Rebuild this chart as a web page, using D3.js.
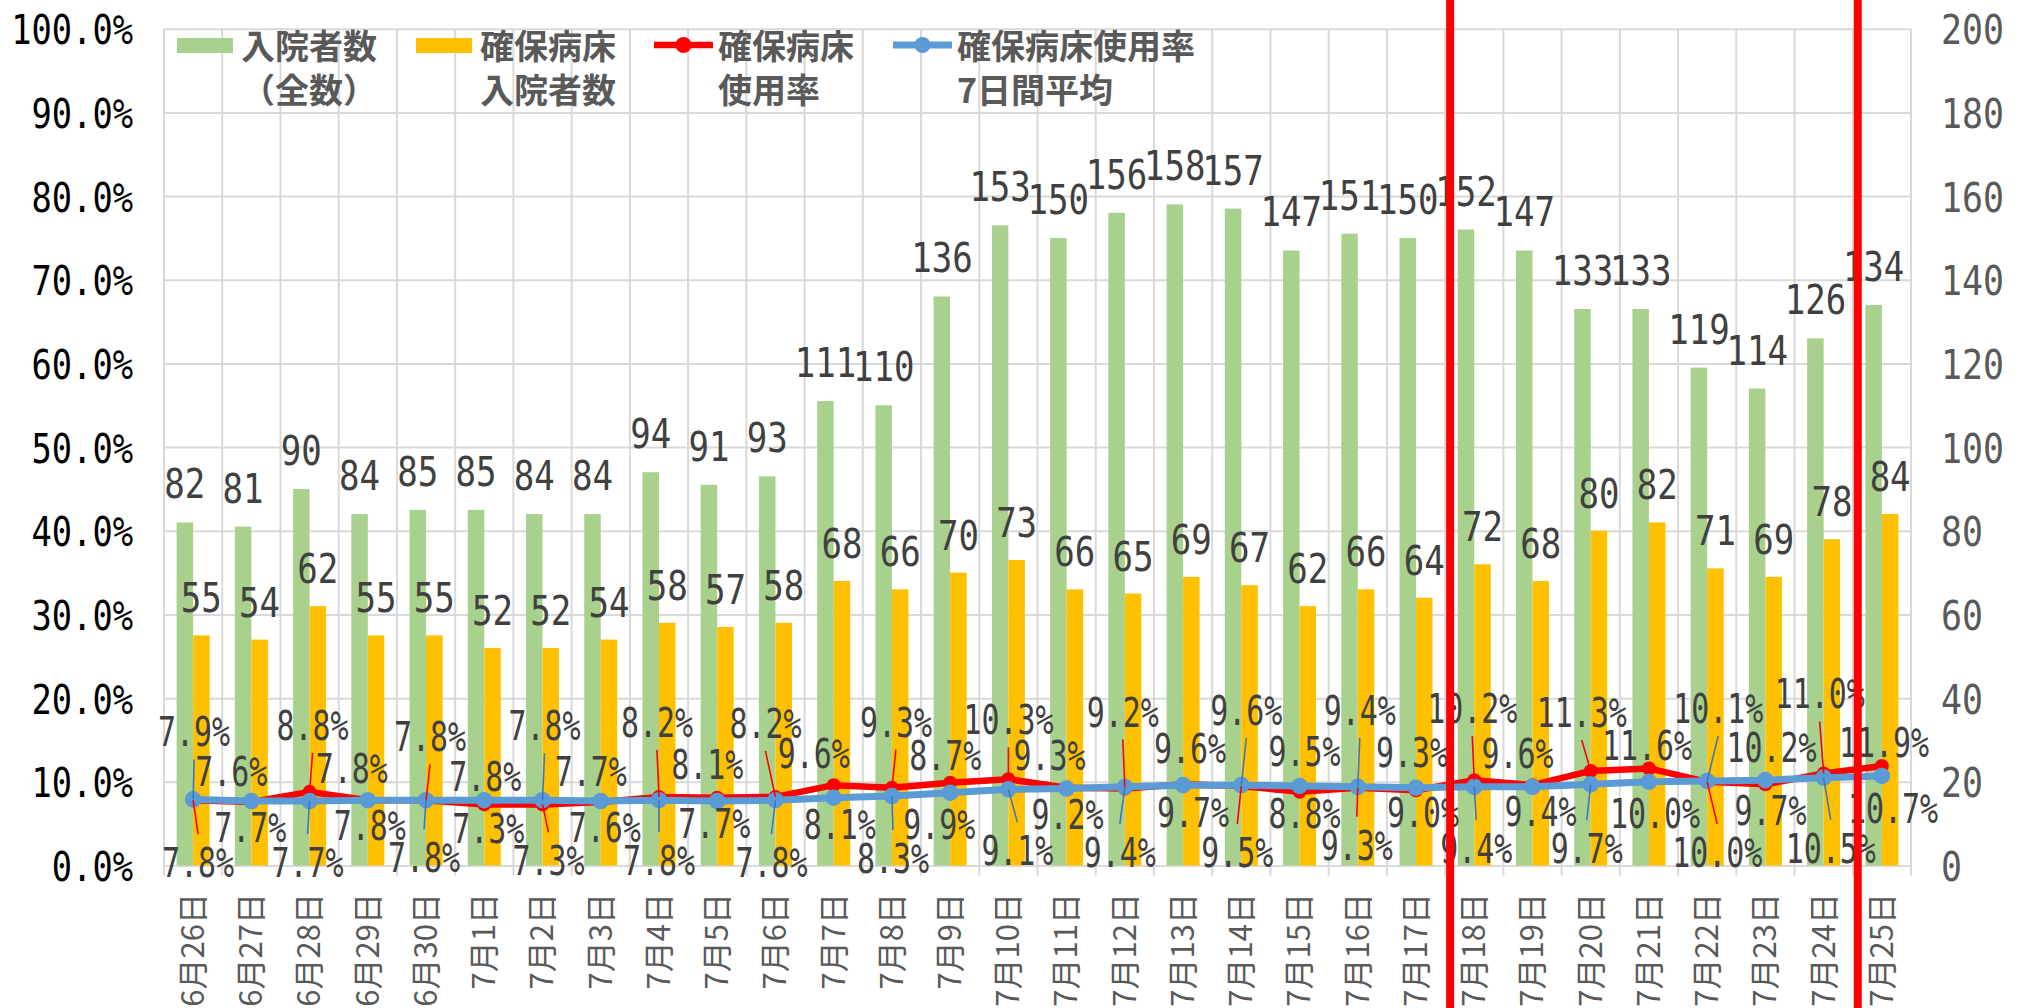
<!DOCTYPE html>
<html>
<head>
<meta charset="utf-8">
<script src="https://cdn.jsdelivr.net/npm/d3@7"></script>
<style>
  body { margin: 0; background: #fff; }
  svg { display: block; }
</style>
</head>
<body>
<svg id="chart" width="2024" height="1008"></svg>
<script>
// data
const dates = ["6月26日","6月27日","6月28日","6月29日","6月30日","7月1日","7月2日","7月3日","7月4日","7月5日",
  "7月6日","7月7日","7月8日","7月9日","7月10日","7月11日","7月12日","7月13日","7月14日","7月15日",
  "7月16日","7月17日","7月18日","7月19日","7月20日","7月21日","7月22日","7月23日","7月24日","7月25日"];
const inpatients = [82,81,90,84,85,85,84,84,94,91,93,111,110,136,153,150,156,158,157,147,151,150,152,147,133,133,119,114,126,134];
const securedBeds = [55,54,62,55,55,52,52,54,58,57,58,68,66,70,73,66,65,69,67,62,66,64,72,68,80,82,71,69,78,84];
const usageRate = [7.8,7.6,8.8,7.8,7.8,7.3,7.3,7.6,8.2,8.1,8.2,9.6,9.3,9.9,10.3,9.3,9.2,9.7,9.5,8.8,9.3,9.0,10.2,9.6,11.3,11.6,10.0,9.7,11.0,11.9];
const usageAvg7 = [7.9,7.7,7.7,7.8,7.8,7.8,7.8,7.7,7.8,7.7,7.8,8.1,8.3,8.7,9.1,9.2,9.4,9.6,9.6,9.5,9.4,9.3,9.4,9.4,9.7,10.0,10.1,10.2,10.5,10.7];
const leftTicks = [0,0.1,0.2,0.3,0.4,0.5,0.6,0.7,0.8,0.9,1.0];
const rightTicks = [0,20,40,60,80,100,120,140,160,180,200];
const markedDates = ["7月18日","7月25日"];  // red vertical markers

// label placement (px offsets from the point), as in the original
const rateLabelOffset = [[5,62],[-20,-31],[3,-67],[-16,-32],[4,-64],[4,24],[6,56],[4,25],[-2,-75],[-10,-34],
  [-10,-74],[-20,-32],[4,-66],[-11,41],[0,-60],[-17,-33],[-2,-77],[10,28],[-4,66],[5,21],
  [-1,57],[7,22],[-2,-72],[-15,-32],[-9,-59],[-2,-23],[10,70],[5,26],[-4,-80],[2,-24]];
const avgLabelOffset = [[1,-68],[-1,26],[-2,61],[2,25],[-2,57],[1,-24],[2,-75],[-10,-30],[0,60],[-3,22],
  [-4,62],[6,26],[1,62],[-5,-38],[9,61],[1,25],[-5,65],[7,-37],[5,-75],[5,-35],
  [2,-77],[-4,-36],[2,61],[8,24],[-4,64],[6,31],[11,-73],[6,-33],[7,70],[11,32]];

const svg = d3.select("#chart");
const plot = { left: 164, right: 1911, top: 28.7, bottom: 865.5 };
const numFont = "'DejaVu Sans Mono', 'Liberation Mono', monospace";
const jpFont = "'Noto Sans CJK JP', 'Noto Sans', sans-serif";
const green = "#A9D18E", orange = "#FFC000", red = "#FF0000", blue = "#5B9BD5";

const x = d3.scaleBand().domain(dates).range([plot.left, plot.right]).padding(0);
const yL = d3.scaleLinear().domain([0, 1]).range([plot.bottom, plot.top]);
const yR = d3.scaleLinear().domain([0, 200]).range([plot.bottom, plot.top]);
const bw = x.bandwidth();
const barW = 16.5;
const cx = i => x(dates[i]) + bw / 2;

// condensed monospace numbers like the original
function numText(sel, cell) {
  sel.attr("font-family", numFont)
    .attr("font-size", 41)
    .attr("textLength", function () { return this.textContent.length * cell; })
    .attr("lengthAdjust", "spacingAndGlyphs");
}

svg.append("rect").attr("width", 2024).attr("height", 1008).attr("fill", "#fff");

// vertical grid at category boundaries (with tick below axis)
svg.append("g")
  .selectAll("line")
  .data(d3.range(dates.length + 1))
  .join("line")
  .attr("x1", i => plot.left + i * bw)
  .attr("x2", i => plot.left + i * bw)
  .attr("y1", plot.top)
  .attr("y2", plot.bottom + 10)
  .attr("stroke", "#d9d9d9")
  .attr("stroke-width", 2);

// left axis + horizontal grid
const gL = svg.append("g")
  .attr("transform", `translate(${plot.left},0)`)
  .call(d3.axisLeft(yL).tickValues(leftTicks).tickFormat(d3.format(".1%"))
    .tickSize(-(plot.right - plot.left)).tickPadding(31));
gL.select(".domain").remove();
gL.selectAll("line").attr("stroke", "#d9d9d9").attr("stroke-width", 2);
gL.selectAll("text").attr("dy", 15).attr("fill", "#000").call(numText, 20.3);

// right axis
const gR = svg.append("g")
  .attr("transform", `translate(${plot.right},0)`)
  .call(d3.axisRight(yR).tickValues(rightTicks).tickSize(0).tickPadding(30));
gR.select(".domain").remove();
gR.selectAll("text").attr("dy", 15).attr("fill", "#595959").call(numText, 21);

// category labels
const gB = svg.append("g")
  .attr("transform", `translate(0,${plot.bottom})`)
  .call(d3.axisBottom(x).tickSize(0));
gB.select(".domain").remove();
gB.selectAll("text")
  .attr("transform", "rotate(-90)")
  .attr("x", -27.5)
  .attr("y", 0)
  .attr("dy", "0.35em")
  .attr("text-anchor", "end")
  .attr("font-family", jpFont)
  .attr("font-size", 31)
  .attr("fill", "#595959");

// bars
svg.append("g")
  .selectAll("rect")
  .data(inpatients)
  .join("rect")
  .attr("x", (d, i) => cx(i) - barW)
  .attr("y", d => yR(d))
  .attr("width", barW)
  .attr("height", d => plot.bottom - yR(d))
  .attr("fill", green);

svg.append("g")
  .selectAll("rect")
  .data(securedBeds)
  .join("rect")
  .attr("x", (d, i) => cx(i))
  .attr("y", d => yR(d))
  .attr("width", barW)
  .attr("height", d => plot.bottom - yR(d))
  .attr("fill", orange);

// lines
function drawLine(values, color, width, r) {
  const line = d3.line().x((d, i) => cx(i)).y(d => yL(d / 100));
  svg.append("path")
    .datum(values)
    .attr("d", line)
    .attr("fill", "none")
    .attr("stroke", color)
    .attr("stroke-width", width)
    .attr("stroke-linejoin", "round");
  svg.append("g")
    .selectAll("circle")
    .data(values)
    .join("circle")
    .attr("cx", (d, i) => cx(i))
    .attr("cy", d => yL(d / 100))
    .attr("r", r)
    .attr("fill", color);
}
drawLine(usageRate, red, 6.5, 7);
drawLine(usageAvg7, blue, 7, 8.3);

// leader lines for labels moved far from their point
function leaders(values, offsets, color) {
  const idx = d3.range(values.length).filter(i => Math.abs(offsets[i][1]) > 50);
  svg.append("g")
    .selectAll("line")
    .data(idx)
    .join("line")
    .attr("x1", i => cx(i))
    .attr("y1", i => yL(values[i] / 100))
    .attr("x2", i => cx(i) + offsets[i][0])
    .attr("y2", i => yL(values[i] / 100) + offsets[i][1] - Math.sign(offsets[i][1]) * 28)
    .attr("stroke", color)
    .attr("stroke-width", 1.6);
}
leaders(usageRate, rateLabelOffset, red);
leaders(usageAvg7, avgLabelOffset, "#3a78c4");

// bar value labels
svg.append("g")
  .selectAll("text")
  .data(inpatients)
  .join("text")
  .attr("x", (d, i) => cx(i) - barW / 2)
  .attr("y", d => yR(d) - 39 + 15)
  .attr("text-anchor", "middle")
  .attr("fill", "#404040")
  .text(d => d)
  .call(numText, 20.5);

svg.append("g")
  .selectAll("text")
  .data(securedBeds)
  .join("text")
  .attr("x", (d, i) => cx(i) + barW / 2)
  .attr("y", d => yR(d) - 38 + 15)
  .attr("text-anchor", "middle")
  .attr("fill", "#404040")
  .text(d => d)
  .call(numText, 20.5);

// percentage labels
function pctLabels(values, offsets) {
  svg.append("g")
    .selectAll("text")
    .data(values)
    .join("text")
    .attr("x", (d, i) => cx(i) + offsets[i][0])
    .attr("y", (d, i) => yL(d / 100) + offsets[i][1] + 15)
    .attr("text-anchor", "middle")
    .attr("fill", "#404040")
    .text(d => d3.format(".1f")(d) + "%")
    .call(numText, 18);
}
pctLabels(usageRate, rateLabelOffset);
pctLabels(usageAvg7, avgLabelOffset);

// legend
const legend = svg.append("g")
  .attr("font-family", jpFont)
  .attr("font-size", 34)
  .attr("font-weight", "bold")
  .attr("fill", "#595959");

function legendText(x0, lines) {
  lines.forEach((t, k) => {
    legend.append("text").attr("x", x0).attr("y", 59 + k * 44).text(t);
  });
}
legend.append("rect").attr("x", 177).attr("y", 38).attr("width", 56).attr("height", 15).attr("fill", green);
legendText(241, ["入院者数", "（全数）"]);
legend.append("rect").attr("x", 416).attr("y", 38).attr("width", 56).attr("height", 15).attr("fill", orange);
legendText(480, ["確保病床", "入院者数"]);
legend.append("line").attr("x1", 654).attr("x2", 713).attr("y1", 45).attr("y2", 45)
  .attr("stroke", red).attr("stroke-width", 6.5);
legend.append("circle").attr("cx", 683.5).attr("cy", 45).attr("r", 8).attr("fill", red);
legendText(718, ["確保病床", "使用率"]);
legend.append("line").attr("x1", 893).attr("x2", 952).attr("y1", 45).attr("y2", 45)
  .attr("stroke", blue).attr("stroke-width", 7);
legend.append("circle").attr("cx", 922.5).attr("cy", 45).attr("r", 8).attr("fill", blue);
legendText(957, ["確保病床使用率", "7日間平均"]);

// red vertical markers
svg.append("g")
  .selectAll("rect")
  .data(markedDates)
  .join("rect")
  .attr("x", d => x(d) + 1)
  .attr("y", 0)
  .attr("width", 8)
  .attr("height", 1008)
  .attr("fill", red);
</script>
</body>
</html>
